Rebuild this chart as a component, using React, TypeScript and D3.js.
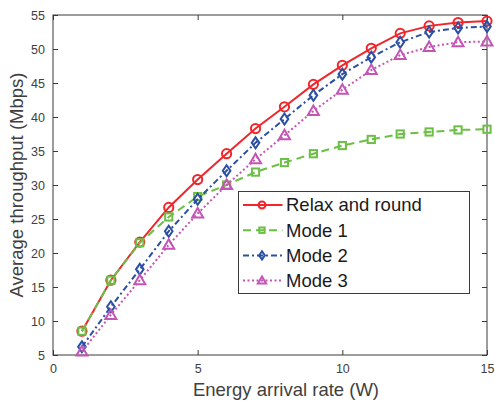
import React, { useEffect, useRef } from 'react'
import * as d3 from 'd3'

const rates = [1, 2, 3, 4, 5, 6, 7, 8, 9, 10, 11, 12, 13, 14, 15]
const relaxRound = [8.5, 16.0, 21.6, 26.7, 30.8, 34.6, 38.3, 41.5, 44.8, 47.6, 50.1, 52.3, 53.4, 53.9, 54.1]
const mode1 = [8.5, 16.0, 21.5, 25.3, 28.3, 30.0, 31.9, 33.3, 34.6, 35.8, 36.7, 37.5, 37.8, 38.1, 38.2]
const mode2 = [6.2, 12.1, 17.6, 23.2, 27.9, 32.1, 36.2, 39.7, 43.2, 46.3, 48.8, 51.0, 52.5, 53.1, 53.3]
const mode3 = [5.5, 10.9, 16.0, 21.2, 25.8, 30.0, 33.8, 37.3, 40.9, 44.0, 46.9, 49.1, 50.3, 51.0, 51.1]
const xTicks = [0, 5, 10, 15]
const yTicks = [5, 10, 15, 20, 25, 30, 35, 40, 45, 50, 55]

const series = [
  { name: 'Relax and round', values: relaxRound, color: '#f0262b', dash: null, marker: 'circle' },
  { name: 'Mode 1', values: mode1, color: '#6cbf45', dash: '8,5', marker: 'square' },
  { name: 'Mode 2', values: mode2, color: '#2a4fa3', dash: '6,3,2,3', marker: 'diamond' },
  { name: 'Mode 3', values: mode3, color: '#c455b5', dash: '2,2.5', marker: 'triangle' },
]

const W = 495, H = 402
const m = { left: 53, right: 8, top: 15, bottom: 47 }

const drawMarker = (g, kind, x, y, color, k = 1) => {
  if (kind === 'circle') {
    g.append('circle').attr('cx', x).attr('cy', y).attr('r', 4.6 * k)
      .attr('fill', 'none').attr('stroke', color).attr('stroke-width', 2)
  } else if (kind === 'square') {
    const s = 3.6 * k
    g.append('rect').attr('x', x - s).attr('y', y - s).attr('width', 2 * s).attr('height', 2 * s)
      .attr('fill', 'none').attr('stroke', color).attr('stroke-width', 2)
  } else if (kind === 'diamond') {
    g.append('path').attr('d', `M${x},${y - 5.5 * k}L${x + 3.8 * k},${y}L${x},${y + 5.5 * k}L${x - 3.8 * k},${y}Z`)
      .attr('fill', 'none').attr('stroke', color).attr('stroke-width', 2)
  } else {
    g.append('path').attr('d', `M${x},${y - 5.5 * k}L${x + 5.5 * k},${y + 4 * k}L${x - 5.5 * k},${y + 4 * k}Z`)
      .attr('fill', 'none').attr('stroke', color).attr('stroke-width', 2)
  }
}

const App = () => {
  const svgRef = useRef()

  useEffect(() => {
    const svg = d3.select(svgRef.current)
    svg.selectAll('*').remove()

    const x = d3.scaleLinear().domain([0, 15]).range([m.left, W - m.right])
    const y = d3.scaleLinear().domain([5, 55]).range([H - m.bottom, m.top])
    const axisColor = '#3a3a3a'
    const font = '"Liberation Sans", Arial, sans-serif'

    // frame
    svg.append('rect')
      .attr('x', m.left).attr('y', m.top)
      .attr('width', W - m.left - m.right).attr('height', H - m.top - m.bottom)
      .attr('fill', 'white').attr('stroke', axisColor).attr('stroke-width', 1)

    const bottomAxis = d3.axisBottom(x).tickValues(xTicks).tickSizeInner(-5).tickSizeOuter(0).tickPadding(9)
    const topAxis = d3.axisTop(x).tickValues(xTicks).tickSizeInner(-5).tickSizeOuter(0).tickFormat(() => '')
    const leftAxis = d3.axisLeft(y).tickValues(yTicks).tickSizeInner(-5).tickSizeOuter(0).tickPadding(8)
    const rightAxis = d3.axisRight(y).tickValues(yTicks).tickSizeInner(-5).tickSizeOuter(0).tickFormat(() => '')

    const styleAxis = g => {
      g.select('.domain').remove()
      g.selectAll('line').attr('stroke', axisColor)
      g.selectAll('text').attr('fill', '#404040').attr('font-size', 12.5).attr('font-family', font)
    }

    svg.append('g').attr('transform', `translate(0,${H - m.bottom})`).call(bottomAxis).call(styleAxis)
    svg.append('g').attr('transform', `translate(0,${m.top})`).call(topAxis).call(styleAxis)
    svg.append('g').attr('transform', `translate(${m.left},0)`).call(leftAxis).call(styleAxis)
    svg.append('g').attr('transform', `translate(${W - m.right},0)`).call(rightAxis).call(styleAxis)

    // lines
    const line = d3.line().x((d, i) => x(rates[i])).y(d => y(d))
    series.forEach(s => {
      svg.append('path').datum(s.values).attr('d', line)
        .attr('fill', 'none').attr('stroke', s.color).attr('stroke-width', 2)
        .attr('stroke-dasharray', s.dash)
      const g = svg.append('g')
      s.values.forEach((v, i) => drawMarker(g, s.marker, x(rates[i]), y(v), s.color))
    })

    // legend
    const lg = svg.append('g').attr('transform', 'translate(238.5,191.5)')
    lg.append('rect').attr('width', 231).attr('height', 102)
      .attr('fill', 'white').attr('stroke', axisColor).attr('stroke-width', 1)
    series.forEach((s, i) => {
      const ry = 13.5 + i * 25.2
      lg.append('line').attr('x1', 4.5).attr('x2', 44).attr('y1', ry).attr('y2', ry)
        .attr('stroke', s.color).attr('stroke-width', 2).attr('stroke-dasharray', s.dash)
      drawMarker(lg, s.marker, 23.5, ry, s.color, 0.75)
      lg.append('text').attr('x', 47.5).attr('y', ry).attr('dy', '0.35em')
        .attr('font-size', 18.5).attr('font-family', font).attr('fill', '#1a1a1a')
        .text(s.name)
    })

    // axis titles
    svg.append('text')
      .attr('x', 286).attr('y', 396)
      .attr('text-anchor', 'middle').attr('font-size', 18.5).attr('font-family', font)
      .attr('fill', '#404040').text('Energy arrival rate (W)')
    svg.append('text')
      .attr('transform', `translate(23,185) rotate(-90)`)
      .attr('text-anchor', 'middle').attr('font-size', 18.5).attr('font-family', font)
      .attr('fill', '#404040').text('Average throughput (Mbps)')
  }, [])

  return (
    <div style={{ position: 'absolute', left: 0, top: 0 }}>
      <svg ref={svgRef} width={W} height={H} />
    </div>
  )
}

export default App
